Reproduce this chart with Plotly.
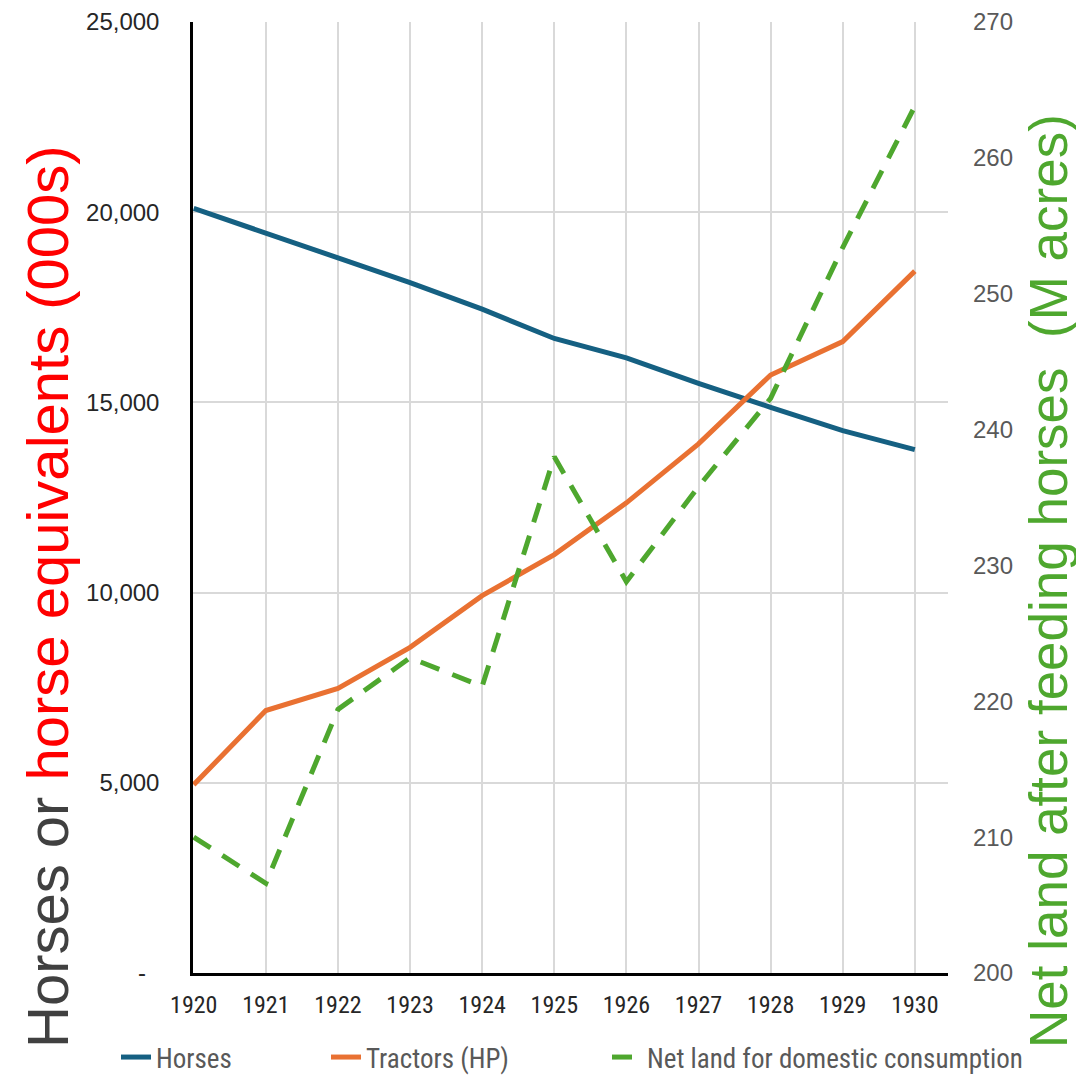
import plotly.graph_objects as go

years = [1920, 1921, 1922, 1923, 1924, 1925, 1926, 1927, 1928, 1929, 1930]
horses = [20100, 19450, 18800, 18150, 17450, 16680, 16170, 15500, 14870, 14260, 13760]
tractors_hp = [4950, 6900, 7480, 8560, 9920, 11000, 12360, 13910, 15720, 16600, 18450]
net_land = [210.0, 206.6, 219.4, 223.2, 221.1, 238.0, 228.8, 235.8, 242.3, 253.4, 263.8]

left_ticks = [0, 5000, 10000, 15000, 20000, 25000]
left_ticktext = ["-\u00a0\u00a0", "5,000", "10,000", "15,000", "20,000", "25,000"]
right_ticks = [200, 210, 220, 230, 240, 250, 260, 270]

NARROW = "Liberation Sans Narrow, Arial Narrow, Roboto Condensed, Liberation Sans, Arial, sans-serif"
SANS = "Liberation Sans, Arial, sans-serif"

BLUE = "#156082"
ORANGE = "#E97132"
GREEN = "#4EA72E"

# page has an 8px body margin; figure sized to fit the 1084x1082 window
W, H = 1076, 1074
ML, MT, MR, MB = 185, 14, 136, 109
PW, PH = W - ML - MR, H - MT - MB

fig = go.Figure()
fig.add_trace(go.Scatter(x=years, y=horses, name="Horses", mode="lines",
                         legend="legend", line=dict(color=BLUE, width=5)))
fig.add_trace(go.Scatter(x=years, y=tractors_hp, name="Tractors (HP)", mode="lines",
                         legend="legend2", line=dict(color=ORANGE, width=5)))
fig.add_trace(go.Scatter(x=years, y=net_land, name="Net land for domestic consumption", mode="lines",
                         yaxis="y2", legend="legend3",
                         line=dict(color=GREEN, width=5, dash="20px,14px")))


def legend_at(text_left_px):
    return dict(orientation="h", xref="container", yref="container",
                x=(text_left_px - 48) / W, xanchor="left",
                y=0.0, yanchor="bottom",
                font=dict(family=NARROW, size=27, color="#595959"),
                bgcolor="rgba(0,0,0,0)")


fig.update_layout(
    width=W, height=H,
    margin=dict(l=ML, r=MR, t=MT, b=MB, autoexpand=False),
    paper_bgcolor="white", plot_bgcolor="white",
    showlegend=True,
    legend=legend_at(156),
    legend2=legend_at(366),
    legend3=legend_at(647),
    xaxis=dict(range=[1919.99, 1930.46], tickmode="array", tickvals=years,
               ticktext=[str(y) for y in years],
               showgrid=True, gridcolor="#D9D9D9", gridwidth=1.5,
               showline=True, linecolor="black", linewidth=3,
               ticks="", ticklabelstandoff=8, zeroline=False,
               tickfont=dict(family=NARROW, size=24, color="#262626")),
    yaxis=dict(range=[0, 25000], tickmode="array", tickvals=left_ticks,
               ticktext=left_ticktext,
               showgrid=True, gridcolor="#D9D9D9", gridwidth=1.5,
               showline=True, linecolor="black", linewidth=2.5,
               ticks="", ticklabelstandoff=26, zeroline=False,
               tickfont=dict(family=SANS, size=24, color="#262626")),
    yaxis2=dict(range=[200, 270], overlaying="y", side="right",
                tickmode="array", tickvals=right_ticks,
                showgrid=False, showline=False, zeroline=False,
                ticks="", ticklabelstandoff=24,
                tickfont=dict(family=SANS, size=24, color="#595959")),
    annotations=[
        dict(xref="paper", yref="paper", x=(47 - 193) / PW, y=(973 - 597) / PH,
             xanchor="center", yanchor="middle", textangle=-90, showarrow=False,
             text="<span style='color:#404040'>Horses or </span>"
                  "<span style='color:#FF0000'>horse equivalents (000s)</span>",
             font=dict(family=SANS, size=58, color="#404040")),
        dict(xref="paper", yref="paper", x=(1048 - 193) / PW, y=(973 - 581) / PH,
             xanchor="center", yanchor="middle", textangle=-90, showarrow=False,
             text="Net land after feeding horses\u00a0 (M acres)",
             font=dict(family=SANS, size=53, color=GREEN)),
    ],
)

fig.write_html("out.html")
